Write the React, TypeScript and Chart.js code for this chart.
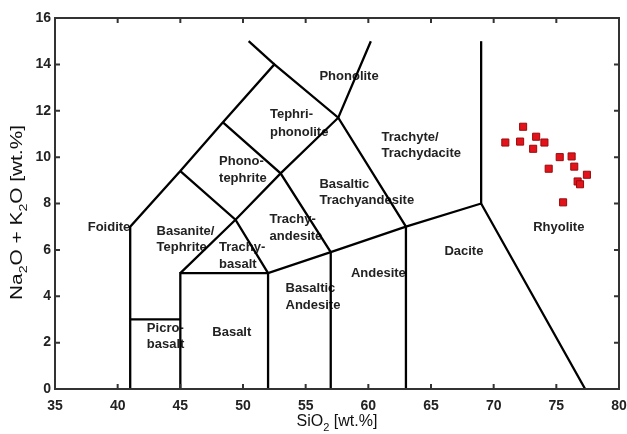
import React, { useEffect, useRef } from "react";
import { Chart, registerables } from "chart.js";

Chart.register(...registerables);

// Axis ranges / ticks
const xTicks = [35, 40, 45, 50, 55, 60, 65, 70, 75, 80];
const yTicks = [0, 2, 4, 6, 8, 10, 12, 14, 16];

// Axis titles: [text, isSubscript]
const xTitleParts: [string, boolean][] = [["SiO", false], ["2", true], [" [wt.%]", false]];
const yTitleParts: [string, boolean][] = [["Na", false], ["2", true], ["O + K", false], ["2", true], ["O [wt.%]", false]];

// Sample compositions (SiO2, Na2O+K2O)
const sampleSiO2 = [72.35, 70.93, 72.11, 73.39, 74.05, 73.15, 75.27, 76.22, 76.43, 74.39, 77.44, 76.7, 76.89, 75.54];
const sampleAlk = [11.31, 10.63, 10.67, 10.88, 10.63, 10.36, 10.0, 10.03, 9.59, 9.5, 9.24, 8.95, 8.83, 8.05];

// TAS field boundaries (polylines, [SiO2, alkali])
const boundaryA = [[41, 0], [41, 7], [45, 9.4], [48.4, 11.5], [52.5, 14], [57.6, 11.7], [63, 7]];
const boundaryB = [[50.45, 15], [52.5, 14]];
const boundaryC = [[41, 3], [45, 3]];
const boundaryD = [[45, 0], [45, 5], [52, 5], [57, 5.9], [63, 7], [69, 8], [77.3, 0]];
const boundaryE = [[52, 0], [52, 5]];
const boundaryF = [[57, 0], [57, 5.9]];
const boundaryG = [[63, 0], [63, 7]];
const boundaryH = [[69, 8], [69, 15]];
const boundaryI = [[45, 5], [49.4, 7.3], [53, 9.3], [57.6, 11.7], [60.2, 15]];
const boundaryJ = [[45, 9.4], [49.4, 7.3], [52, 5]];
const boundaryK = [[48.4, 11.5], [53, 9.3], [57, 5.9]];
const boundaries = [boundaryA, boundaryB, boundaryC, boundaryD, boundaryE, boundaryF, boundaryG, boundaryH, boundaryI, boundaryJ, boundaryK];

// Field names (text, SiO2 at left edge, alkali at text middle)
const fieldText = [
  "Phonolite", "Tephri-", "phonolite", "Trachyte/", "Trachydacite", "Phono-", "tephrite",
  "Basaltic", "Trachyandesite", "Trachy-", "andesite", "Dacite", "Andesite", "Basaltic", "Andesite",
  "Trachy-", "basalt", "Basanite/", "Tephrite", "Foidite", "Picro-", "basalt", "Basalt", "Rhyolite",
];
const fieldX = [56.1, 52.15, 52.15, 61.05, 61.05, 48.09, 48.09, 56.1, 56.1, 52.12, 52.12, 66.07, 58.61, 53.39, 53.39, 48.09, 48.09, 43.1, 43.1, 37.61, 42.33, 42.33, 47.55, 73.15];
const fieldY = [13.49, 11.84, 11.08, 10.83, 10.14, 9.82, 9.08, 8.82, 8.13, 7.31, 6.59, 5.94, 4.98, 4.32, 3.6, 6.09, 5.39, 6.8, 6.09, 6.95, 2.63, 1.91, 2.46, 6.96];

const FONT = "'Liberation Sans', Arial, Helvetica, sans-serif";

function drawParts(ctx: CanvasRenderingContext2D, parts: [string, boolean][], size: number) {
  const sub = Math.round(size * 0.7);
  const widths = parts.map(([t, s]) => {
    ctx.font = `${s ? sub : size}px ${FONT}`;
    return ctx.measureText(t).width;
  });
  const total = widths.reduce((a, b) => a + b, 0);
  let x = -total / 2;
  parts.forEach(([t, s], i) => {
    ctx.font = `${s ? sub : size}px ${FONT}`;
    ctx.fillText(t, x, s ? size * 0.3 : 0);
    x += widths[i];
  });
}

const tasPlugin = {
  id: "tasDecor",
  beforeDatasetsDraw(chart: any) {
    const { ctx, scales } = chart;
    const xs = scales.x, ys = scales.y;
    ctx.save();
    ctx.font = `bold 13px ${FONT}`;
    ctx.fillStyle = "#222";
    ctx.textAlign = "left";
    ctx.textBaseline = "middle";
    fieldText.forEach((t, i) => {
      ctx.fillText(t, xs.getPixelForValue(fieldX[i]), ys.getPixelForValue(fieldY[i]));
    });
    ctx.restore();
  },
  afterDraw(chart: any) {
    const { ctx, chartArea, scales } = chart;
    const { left, right, top, bottom } = chartArea;
    ctx.save();
    ctx.strokeStyle = "#333";
    ctx.lineWidth = 2;
    ctx.strokeRect(left, top, right - left, bottom - top);
    const tl = 5;
    ctx.beginPath();
    xTicks.slice(1, -1).forEach((v) => {
      const px = scales.x.getPixelForValue(v);
      ctx.moveTo(px, bottom); ctx.lineTo(px, bottom - tl);
      ctx.moveTo(px, top); ctx.lineTo(px, top + tl);
    });
    yTicks.slice(1, -1).forEach((v) => {
      const py = scales.y.getPixelForValue(v);
      ctx.moveTo(left, py); ctx.lineTo(left + tl, py);
      ctx.moveTo(right, py); ctx.lineTo(right - tl, py);
    });
    ctx.stroke();

    // axis titles
    ctx.fillStyle = "#111";
    ctx.textAlign = "left";
    ctx.textBaseline = "alphabetic";
    ctx.save();
    ctx.translate((left + right) / 2, chart.height - 8);
    drawParts(ctx, xTitleParts, 16);
    ctx.restore();
    ctx.save();
    ctx.translate(22, (top + bottom) / 2 + 9);
    ctx.rotate(-Math.PI / 2);
    ctx.scale(1.3, 1);
    drawParts(ctx, yTitleParts, 16);
    ctx.restore();
    ctx.restore();
  },
};

export default function App() {
  const ref = useRef<HTMLCanvasElement>(null);
  useEffect(() => {
    if (!ref.current) return;
    const lineSets = boundaries.map((b) => ({
      data: b.map(([x, y]) => ({ x, y })),
      showLine: true,
      borderColor: "#000",
      borderWidth: 2.3,
      pointRadius: 0,
      tension: 0,
      fill: false,
    }));
    const chart = new Chart(ref.current, {
      type: "scatter",
      data: {
        datasets: [
          ...lineSets,
          {
            data: sampleSiO2.map((x, i) => ({ x, y: sampleAlk[i] })),
            pointStyle: "rect",
            pointRadius: 5,
            backgroundColor: "#e3131b",
            borderColor: "#9a0a0a",
            borderWidth: 1,
            showLine: false,
          },
        ] as any,
      },
      options: {
        animation: false,
        responsive: true,
        maintainAspectRatio: false,
        layout: { padding: { top: 18, right: 8, left: 0, bottom: 0 } },
        plugins: { legend: { display: false }, tooltip: { enabled: false } },
        scales: {
          x: {
            type: "linear",
            min: 35,
            max: 80,
            afterBuildTicks: (s: any) => { s.ticks = xTicks.map((v) => ({ value: v })); },
            afterFit: (s: any) => { s.height = 45; s.paddingLeft = 0; s.paddingRight = 0; },
            grid: { display: false, drawTicks: false },
            border: { display: false },
            ticks: { color: "#222", font: { family: FONT, size: 14, weight: "bold" }, padding: 9, maxRotation: 0, autoSkip: false },
            title: { display: false },
          },
          y: {
            type: "linear",
            min: 0,
            max: 16,
            afterBuildTicks: (s: any) => { s.ticks = yTicks.map((v) => ({ value: v })); },
            afterFit: (s: any) => { s.width = 55; s.paddingTop = 0; s.paddingBottom = 0; },
            grid: { display: false, drawTicks: false },
            border: { display: false },
            ticks: { color: "#222", font: { family: FONT, size: 14, weight: "bold" }, padding: 4, autoSkip: false },
            title: { display: false },
          },
        },
      },
      plugins: [tasPlugin],
    });
    return () => chart.destroy();
  }, []);
  return (
    <div style={{ position: "absolute", left: 0, top: 0, width: 627, height: 434, background: "#fff" }}>
      <canvas ref={ref} />
    </div>
  );
}
